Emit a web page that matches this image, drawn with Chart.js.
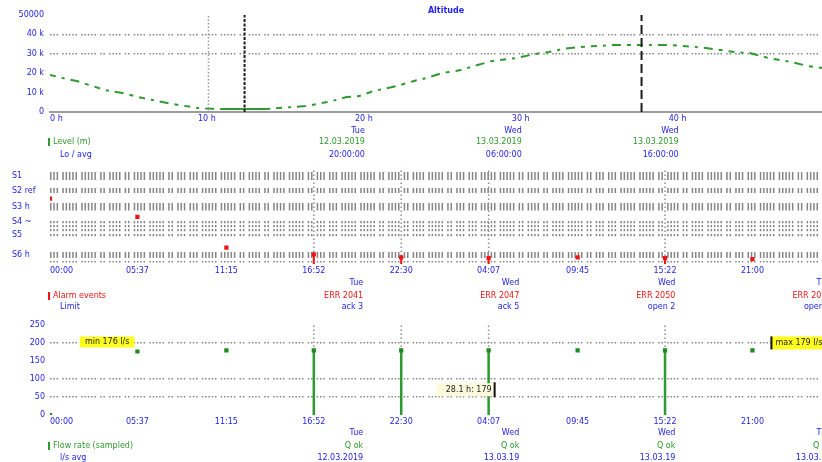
<!DOCTYPE html>
<html>
<head>
<meta charset="utf-8">
<script src="https://cdn.jsdelivr.net/npm/chart.js@4/dist/chart.umd.min.js"></script>
<style>
  html, body { margin: 0; padding: 0; background: #fff; }
  #wrap { position: relative; width: 822px; height: 462px; overflow: hidden; }
  canvas { position: absolute; left: 0; }
</style>
</head>
<body>
<div id="wrap">
  <canvas id="cLevel" style="top:0px" width="822" height="165"></canvas>
  <canvas id="cAlarm" style="top:160px" width="822" height="155"></canvas>
  <canvas id="cFlow" style="top:315px" width="822" height="147"></canvas>
</div>
<script>
// ---- level trace (hours, thousands) ----
const levelHours = [0, 0.8, 1.7, 2.7, 3.5, 4.6, 5.9, 6.8, 7.8, 9.4, 9.9, 11.0, 13.8, 15.5, 16.3, 17.0, 18.0, 18.9, 19.7, 20.6, 21.3, 22.1, 23.2, 24.0, 25.0, 26.2, 27.0, 28.2, 29.7, 30.9, 31.8, 32.7, 33.7, 35.9, 39.6, 41.8, 42.7, 43.6, 44.6, 45.8, 47.2, 48.3, 49.2];
const levelValues = [19.1, 17.5, 16.0, 13.4, 11.3, 9.8, 7.2, 5.7, 4.1, 2.1, 1.8, 1.5, 1.5, 2.6, 3.1, 4.1, 5.7, 7.7, 8.2, 10.8, 11.9, 13.4, 16.0, 17.5, 20.1, 21.6, 23.7, 26.3, 27.8, 29.9, 30.9, 32.5, 33.5, 34.5, 34.5, 33.0, 32.0, 30.9, 30.4, 27.8, 25.8, 23.7, 22.7];
const troughIdx = [11, 12];
const cursorHours = [10.1, 12.4, 37.7];
const hourTicks = [0, 10, 20, 30, 40, 50];
const hourLabels = ['0 h', '10 h', '20 h', '30 h', '40 h', ''];
const levelTickLabels = ['0', '10 k', '20 k', '30 k', '40 k', '50000'];

// ---- events shared by the alarm and flow panels ----
const eventHours = [0, 5.6, 11.3, 16.9, 22.5, 28.1, 33.8, 39.4, 45.0];
const eventClock = ['00:00', '05:37', '11:15', '16:52', '22:30', '04:07', '09:45', '15:22', '21:00', ''];
const alarmLevels = [68, 49, 17, 10, 7, 6, 7, 6, 5];
const flowValues = [0, 176, 179, 179, 179, 179, 179, 179, 179];
const stemIdx = [3, 4, 5, 7];

// ---- alarm lanes ----
const laneTicks = [2, 9.2, 30.1, 35.7, 39.8, 43.9, 59.7, 76, 91.8];
const laneLabels = ['', 'S6 h', 'S5', '', '', 'S4 ~', 'S3 h', 'S2 ref', 'S1'];
const laneWidths = [1.5, 6, 2.2, 2.2, 2.2, 2.2, 7.5, 5, 8];

// ---- flow axis ----
const flowGridValues = [50, 100, 200];

// ---- date blocks under the hour ticks ----
const blockHours = [20, 30, 40, 50];
const blockDay = ['Tue', 'Wed', 'Wed', 'Thu'];
const levelBlockDate = ['12.03.2019', '13.03.2019', '13.03.2019', '13.03.2019'];
const levelBlockTime = ['20:00:00', '06:00:00', '16:00:00', '02:00:00'];
const alarmBlockCode = ['ERR 2041', 'ERR 2047', 'ERR 2050', 'ERR 2053'];
const alarmBlockState = ['ack 3', 'ack 5', 'open 2', 'open 1'];
const flowBlockState = ['Q ok', 'Q ok', 'Q ok', 'Q ok'];
const flowBlockDate = ['12.03.2019', '13.03.19', '13.03.19', '13.03.19'];

const BLUE = '#2323e6';
const GREEN = '#2f9a2f';
const DARK_GREEN = '#1f8a1f';
const RED = '#f01414';
const GRID_GRAY = '#858585';
const FONT = { family: "'DejaVu Sans', sans-serif", size: 8 };
const FONT_CSS = "8px 'DejaVu Sans', sans-serif";

// irregular dotted pattern used for all horizontal grid lines
function dashPattern(groups, bar, gap, groupGap) {
  const out = [];
  groups.forEach(n => {
    for (let i = 0; i < n; i++) out.push(bar, i === n - 1 ? groupGap : gap);
  });
  return out;
}
const GRID_DASH = dashPattern([3, 5, 5, 2, 4, 2, 4, 5, 2, 3], 1.5, 1.8, 4.2);

const pts = (xs, ys) => xs.map((x, i) => ({ x, y: ys[i] }));
const vLine = (x, y0, y1) => [{ x, y: y0 }, { x, y: y1 }];

// legend, date blocks and extra labels drawn under each panel
const panelText = {
  id: 'panelText',
  afterDraw(chart, args, o) {
    const { ctx, chartArea } = chart;
    const xs = chart.scales.x;
    const b = chartArea.bottom;
    ctx.save();
    ctx.font = FONT_CSS;
    ctx.textBaseline = 'middle';
    if (o.title) {
      ctx.font = "bold 8px 'DejaVu Sans', sans-serif";
      ctx.fillStyle = BLUE;
      ctx.textAlign = 'center';
      ctx.fillText(o.title, (chartArea.left + chartArea.right) / 2 + 10, 11);
      ctx.font = FONT_CSS;
    }
    // legend entry
    ctx.textAlign = 'left';
    ctx.fillStyle = o.color;
    ctx.fillRect(48, b + o.rows[1] - 4, 2, 8);
    ctx.fillText(o.name, 53, b + o.rows[1]);
    ctx.fillStyle = BLUE;
    ctx.fillText(o.sub, 60, b + o.rows[2]);
    // blocks
    ctx.textAlign = 'right';
    blockHours.slice(0, o.blocks).forEach((h, i) => {
      const x = xs.getPixelForValue(h) + 1;
      ctx.fillStyle = BLUE;
      ctx.fillText(blockDay[i], x, b + o.rows[0]);
      ctx.fillStyle = o.color;
      ctx.fillText(o.line2[i], x, b + o.rows[1]);
      ctx.fillStyle = BLUE;
      ctx.fillText(o.line3[i], x, b + o.rows[2]);
    });
    if (o.extra) o.extra(chart, ctx);
    ctx.restore();
  }
};

const baseX = (height, labels, ticks, border) => ({
  type: 'linear', min: 0, max: 49.2,
  afterBuildTicks: s => { s.ticks = ticks.map(v => ({ value: v })); },
  afterFit: s => { s.height = height; s.paddingLeft = 0; s.paddingRight = 0; },
  grid: { display: false, drawTicks: false },
  border: border || { display: false },
  ticks: { color: BLUE, font: FONT, align: 'inner', autoSkip: false, maxRotation: 0, padding: 2,
           callback: (v, i) => labels[i] }
});

// ---------------- level panel ----------------
new Chart(document.getElementById('cLevel'), {
  type: 'line',
  data: {
    datasets: [
      { data: vLine(cursorHours[2], 0, 50), borderColor: '#1c1c1c', borderWidth: 2, borderDash: [9, 4], pointRadius: 0, clip: 0 },
      { data: vLine(cursorHours[1], 0, 50), borderColor: '#1c1c1c', borderWidth: 2, borderDash: [3, 1.5], pointRadius: 0, clip: 0 },
      { data: vLine(cursorHours[0], 0, 50), borderColor: '#9a9a9a', borderWidth: 1.5, borderDash: [1.5, 2], pointRadius: 0, clip: 0 },
      { data: pts(troughIdx.map(i => levelHours[i]), troughIdx.map(i => levelValues[i])),
        borderColor: GREEN, borderWidth: 2, pointRadius: 0, clip: 0 },
      { data: pts(levelHours, levelValues), borderColor: GREEN, borderWidth: 2,
        borderDash: [6, 6, 3, 6, 9, 6, 4, 6], pointRadius: 0, tension: 0, clip: 0 }
    ]
  },
  options: {
    responsive: false, animation: false,
    layout: { padding: { top: 15, left: 0, right: 0, bottom: 0 } },
    plugins: {
      legend: { display: false }, tooltip: { enabled: false },
      panelText: { title: 'Altitude', color: GREEN, name: 'Level (m)', sub: 'Lo / avg', blocks: 3,
                   rows: [19, 30, 43], line2: levelBlockDate, line3: levelBlockTime }
    },
    scales: {
      x: baseX(53, hourLabels, hourTicks, { display: true, color: '#9c9c9c', width: 2 }),
      y: {
        min: 0, max: 50,
        afterFit: s => { s.width = 50; },
        ticks: { stepSize: 10, color: BLUE, font: FONT, padding: 6,
                 callback: v => levelTickLabels[Math.round(v / 10)] },
        grid: { drawTicks: false, lineWidth: 1.5,
                color: c => (c.tick && (c.tick.value === 30 || c.tick.value === 40)) ? GRID_GRAY : 'rgba(0,0,0,0)' },
        border: { display: false, dash: GRID_DASH }
      }
    }
  },
  plugins: [panelText]
});

// ---------------- alarm panel ----------------
new Chart(document.getElementById('cAlarm'), {
  type: 'line',
  data: {
    datasets: [
      { data: pts(eventHours, alarmLevels), showLine: false, pointStyle: 'rect', pointRadius: 3,
        pointBackgroundColor: RED, pointBorderWidth: 0, clip: 0 },
      ...stemIdx.map(i => ({ data: vLine(eventHours[i], 0, alarmLevels[i]), borderColor: RED, borderWidth: 2, pointRadius: 0, clip: 0 })),
      ...stemIdx.map(i => ({ data: vLine(eventHours[i], 0, 100), borderColor: '#8f8f8f', borderWidth: 1.5, borderDash: [1.5, 2.5], pointRadius: 0, clip: 0 }))
    ]
  },
  options: {
    responsive: false, animation: false,
    layout: { padding: { top: 6, left: 12, right: 0, bottom: 0 } },
    plugins: {
      legend: { display: false }, tooltip: { enabled: false },
      panelText: { color: RED, name: 'Alarm events', sub: 'Limit', blocks: 4,
                   rows: [19, 32, 43], line2: alarmBlockCode, line3: alarmBlockState }
    },
    scales: {
      x: baseX(51, eventClock, [...eventHours, 50.6]),
      y: {
        min: 0, max: 100,
        afterFit: s => { s.width = 38; },
        afterBuildTicks: s => { s.ticks = laneTicks.map(v => ({ value: v })); },
        ticks: { color: BLUE, font: FONT, crossAlign: 'far', autoSkip: false, callback: (v, i) => laneLabels[i] },
        grid: { drawTicks: false, color: GRID_GRAY, lineWidth: c => laneWidths[c.index] || 1 },
        border: { display: false, dash: GRID_DASH }
      }
    }
  },
  plugins: [panelText]
});

// ---------------- flow panel ----------------
function flowExtras(chart, ctx) {
  const xs = chart.scales.x, ys = chart.scales.y;
  ctx.font = FONT_CSS;
  ctx.textBaseline = 'middle';
  // first reading
  const a = 1, xa = xs.getPixelForValue(eventHours[a]), ya = ys.getPixelForValue(flowValues[a]);
  const ta = 'min ' + flowValues[a] + ' l/s';
  const wa = ctx.measureText(ta).width + 10;
  ctx.fillStyle = '#ffff1e';
  ctx.fillRect(xa - 3 - wa, ya - 15, wa, 11);
  ctx.fillStyle = '#222';
  ctx.textAlign = 'left';
  ctx.fillText(ta, xa - wa + 2, ya - 9.5);
  // last reading
  const z = flowValues.length - 1, xz = xs.getPixelForValue(eventHours[z]), yz = ys.getPixelForValue(flowValues[z]);
  const tz = 'max ' + flowValues[z] + ' l/s';
  ctx.fillStyle = '#ffff1e';
  ctx.fillRect(xz + 18, yz - 14, ctx.measureText(tz).width + 14, 13);
  ctx.fillStyle = '#111';
  ctx.fillRect(xz + 18, yz - 14, 2, 13);
  ctx.fillStyle = '#222';
  ctx.fillText(tz, xz + 23, yz - 7.5);
  // hover readout at the third stem
  const h = stemIdx[2], xh = xs.getPixelForValue(eventHours[h]), yh = ys.getPixelForValue(70);
  const th = eventHours[h] + ' h: ' + flowValues[h];
  const wh = ctx.measureText(th).width + 12;
  ctx.fillStyle = '#fbfbdc';
  ctx.fillRect(xh + 6 - wh, yh - 6.5, wh, 13);
  ctx.fillStyle = '#111';
  ctx.fillRect(xh + 5, yh - 7.5, 2, 15);
  ctx.fillStyle = '#222';
  ctx.textAlign = 'right';
  ctx.fillText(th, xh + 3, yh);
}

new Chart(document.getElementById('cFlow'), {
  type: 'line',
  data: {
    datasets: [
      { data: pts(eventHours, flowValues), showLine: false, pointStyle: 'rect', pointRadius: 3,
        pointBackgroundColor: DARK_GREEN, pointBorderWidth: 0, clip: 0 },
      ...stemIdx.map(i => ({ data: vLine(eventHours[i], 0, flowValues[i]), borderColor: GREEN, borderWidth: 2.5, pointRadius: 0, clip: 0 })),
      ...stemIdx.map(i => ({ data: vLine(eventHours[i], 0, 250), borderColor: '#8f8f8f', borderWidth: 1.5, borderDash: [1.5, 2.5], pointRadius: 0, clip: 0 }))
    ]
  },
  options: {
    responsive: false, animation: false,
    layout: { padding: { top: 5, left: 0, right: 0, bottom: 0 } },
    plugins: {
      legend: { display: false }, tooltip: { enabled: false },
      panelText: { color: GREEN, name: 'Flow rate (sampled)', sub: 'l/s avg', blocks: 4,
                   rows: [18, 31, 43], line2: flowBlockState, line3: flowBlockDate, extra: flowExtras }
    },
    scales: {
      x: baseX(47, eventClock, [...eventHours, 50.6]),
      y: {
        min: 0, max: 250,
        afterFit: s => { s.width = 50; },
        ticks: { stepSize: 50, color: BLUE, font: FONT, padding: 5 },
        grid: { drawTicks: false, lineWidth: 1.5,
                color: c => (c.tick && flowGridValues.includes(c.tick.value)) ? GRID_GRAY : 'rgba(0,0,0,0)' },
        border: { display: false, dash: GRID_DASH }
      }
    }
  },
  plugins: [panelText]
});
</script>
</body>
</html>
